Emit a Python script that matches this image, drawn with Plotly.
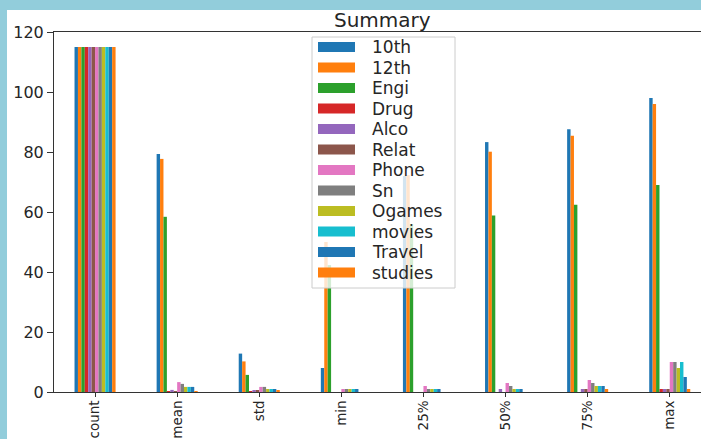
import plotly.graph_objects as go

# Summary statistics (describe()) for each survey column
stats = ["count", "mean", "std", "min", "25%", "50%", "75%", "max"]
series_names = ["10th", "12th", "Engi", "Drug", "Alco", "Relat",
                "Phone", "Sn", "Ogames", "movies", "Travel", "studies"]

s_10th = [115, 79.3, 12.8, 8.0, 72.0, 83.3, 87.6, 98.0]
s_12th = [115, 77.7, 10.2, 50.0, 72.3, 80.1, 85.4, 96.0]
s_engi = [115, 58.4, 5.7, 42.3, 56.0, 58.8, 62.4, 69.0]
s_drug = [115, 0.1, 0.3, 0, 0, 0, 0, 1]
s_alco = [115, 0.7, 0.4, 0, 0, 1, 1, 1]
s_relat = [115, 0.2, 0.4, 0, 0, 0, 1, 1]
s_phone = [115, 3.3, 1.7, 1, 2, 3, 4, 10]
s_sn = [115, 2.7, 1.7, 1, 1, 2, 3, 10]
s_ogames = [115, 1.7, 1.0, 1, 1, 1, 2, 8]
s_movies = [115, 1.7, 1.0, 1, 1, 1, 2, 10]
s_travel = [115, 1.7, 1.0, 1, 1, 1, 2, 5]
s_studies = [115, 0.3, 0.35, 0, 0, 0, 1, 1]

series_values = [s_10th, s_12th, s_engi, s_drug, s_alco, s_relat,
                 s_phone, s_sn, s_ogames, s_movies, s_travel, s_studies]

y_ticks = [0, 20, 40, 60, 80, 100, 120]

colors = ["#1f77b4", "#ff7f0e", "#2ca02c", "#d62728", "#9467bd", "#8c564b",
          "#e377c2", "#7f7f7f", "#bcbd22", "#17becf", "#1f77b4", "#ff7f0e"]

W, H = 701, 439
L, T, B = 54, 32, 392
PW, PH = W - L, B - T
FONT = "DejaVu Sans"
TXT = "#262626"


def px(x):
    return (x - L) / PW


def py(y):
    return (B - y) / PH


fig = go.Figure()
for name, vals, col in zip(series_names, series_values, colors):
    fig.add_trace(go.Bar(x=list(range(len(stats))), y=vals, name=name,
                         marker=dict(color=col, line=dict(width=0)),
                         showlegend=False))

shapes = []
annotations = []

# legend box
shapes.append(dict(type="rect", xref="paper", yref="paper",
                   x0=px(312), x1=px(455), y0=py(288), y1=py(37),
                   fillcolor="rgba(255,255,255,0.8)",
                   line=dict(color="#cccccc", width=1), layer="above"))
for i, (name, col) in enumerate(zip(series_names, colors)):
    yc = 47 + i * 20.5
    shapes.append(dict(type="rect", xref="paper", yref="paper",
                       x0=px(318), x1=px(355), y0=py(yc + 5), y1=py(yc - 5),
                       fillcolor=col, line=dict(width=0), layer="above"))
    annotations.append(dict(xref="paper", yref="paper", x=px(370), y=py(yc),
                            text=name, showarrow=False, xanchor="left",
                            yanchor="middle",
                            font=dict(family=FONT, size=17, color=TXT)))

# page frame
frame = "#92cddb"
shapes.append(dict(type="rect", xref="paper", yref="paper",
                   x0=px(0), x1=px(7), y0=py(H), y1=py(0),
                   fillcolor=frame, line=dict(width=0), layer="above"))
shapes.append(dict(type="rect", xref="paper", yref="paper",
                   x0=px(0), x1=px(W), y0=py(10), y1=py(0),
                   fillcolor=frame, line=dict(width=0), layer="above"))

annotations.append(dict(xref="paper", yref="paper", x=px(382.5), y=py(20),
                        text="Summary", showarrow=False, xanchor="center",
                        yanchor="middle",
                        font=dict(family=FONT, size=20, color=TXT)))

fig.update_layout(
    width=W, height=H,
    margin=dict(l=L, r=0, t=T, b=H - B, pad=0),
    paper_bgcolor="white", plot_bgcolor="white",
    barmode="group", bargap=0.5, bargroupgap=0,
    font=dict(family=FONT, size=16, color=TXT),
    shapes=shapes, annotations=annotations,
    xaxis=dict(tickmode="array", tickvals=list(range(len(stats))),
               ticktext=stats, tickangle=-90, automargin=False,
               tickfont=dict(size=13.5), ticklabelstandoff=-2,
               range=[-0.5, -0.5 + PW / 82.1],
               showline=True, linecolor="#333333", linewidth=1, mirror=True,
               ticks="outside", ticklen=4, tickcolor="#333333",
               showgrid=False, zeroline=False),
    yaxis=dict(range=[0, 120], tickvals=y_ticks, automargin=False,
               showline=True, linecolor="#333333", linewidth=1,
               ticks="outside", ticklen=6, tickcolor="#333333",
               showgrid=False, zeroline=False),
)

fig.write_html("out.html")
